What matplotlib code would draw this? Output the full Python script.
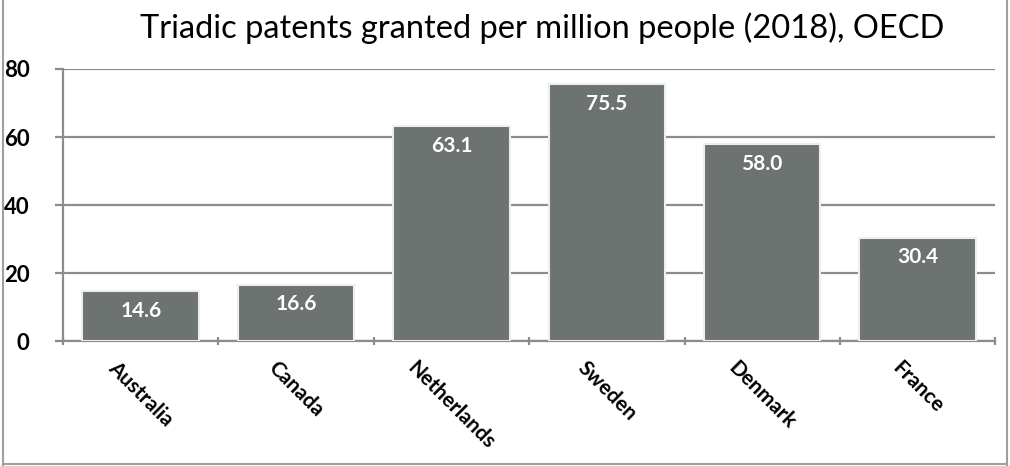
import numpy as np
import matplotlib
matplotlib.use("Agg")
import matplotlib.pyplot as plt
from matplotlib.lines import Line2D

# data
countries = ["Australia", "Canada", "Netherlands", "Sweden", "Denmark", "France"]
patents = [14.6, 16.6, 63.1, 75.5, 58.0, 30.4]
y_ticks = [0, 20, 40, 60, 80]

plt.rcParams['font.family'] = ['Lato', 'DejaVu Sans']

bar_col = "#6d7370"
grid_col = "#8c8c8c"

fig = plt.figure(figsize=(10.10, 4.66), dpi=100)
ax = fig.add_axes([0.0624, 0.268, 0.923, 0.584])

x = np.arange(len(countries))
bars = ax.bar(x, patents, width=0.75, color=bar_col, edgecolor="#eeeeee", linewidth=1.5, zorder=3)

for b, v in zip(bars, patents):
    ax.annotate("%.1f" % v, (b.get_x() + b.get_width() / 2, v), xytext=(0, -7),
                textcoords="offset points", ha="center", va="top",
                color="white", fontsize=15, fontweight="bold", zorder=4)

ax.set_xlim(-0.5, len(countries) - 0.5)
ax.set_ylim(0, 80)
ax.set_yticks(y_ticks)
ax.set_yticklabels([str(t) for t in y_ticks], fontsize=16, fontweight="bold")
ax.yaxis.grid(True, color=grid_col, linewidth=1.6, zorder=0)
ax.tick_params(axis="y", length=6, width=1.6, color=grid_col, pad=18)

# category boundary ticks, labels at centers
ax.set_xticks(np.arange(len(countries) + 1) - 0.5)
ax.set_xticklabels([])
ax.tick_params(axis="x", which="major", length=6, width=1.6, color=grid_col, direction="inout")
ax.set_xticks(x, minor=True)
ax.set_xticklabels(countries, minor=True, rotation=-45, ha="center", va="top",
                   fontsize=15, fontweight="bold")
ax.tick_params(axis="x", which="minor", length=0, pad=12)

for s in ["top", "right"]:
    ax.spines[s].set_visible(False)
for s in ["left", "bottom"]:
    ax.spines[s].set_color(grid_col)
    ax.spines[s].set_linewidth(1.6)

fig.text(0.537, 0.94, "Triadic patents granted per million people (2018), OECD",
         ha="center", va="center", fontsize=23.5)

# frame around the figure (left, bottom, right)
for xs, ys in [([0.003, 0.003], [0, 1]), ([0.003, 0.997], [0.005, 0.005]), ([0.997, 0.997], [0, 1])]:
    fig.add_artist(Line2D(xs, ys, color="#a0a0a0", linewidth=1.5, transform=fig.transFigure))

fig.savefig("out.png", dpi=100)
